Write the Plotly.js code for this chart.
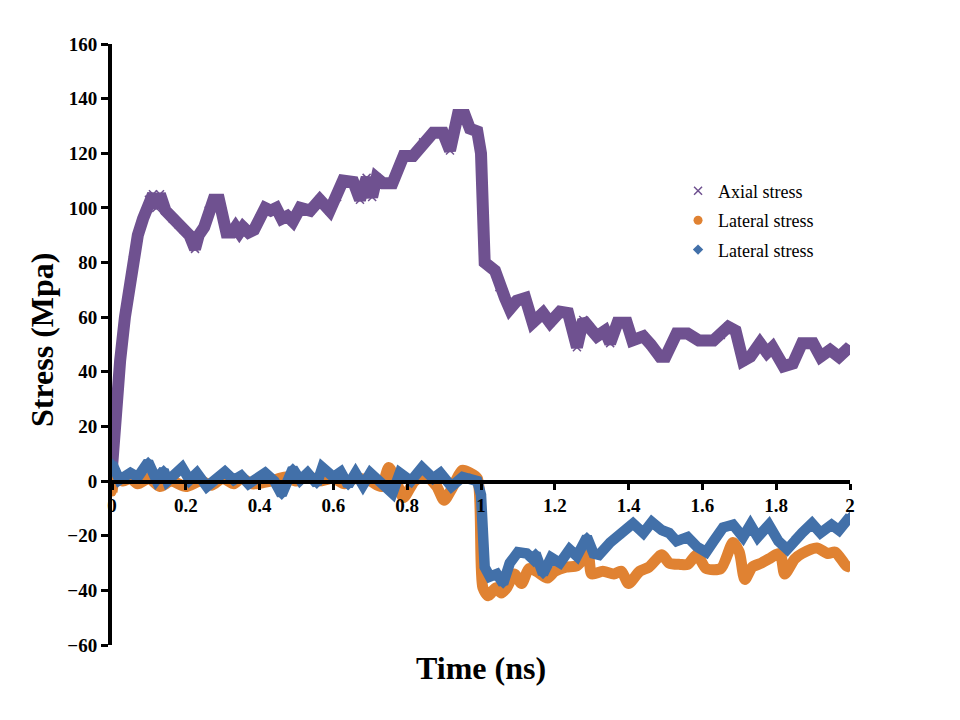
<!DOCTYPE html>
<html>
<head>
<meta charset="utf-8">
<script src="https://cdn.plot.ly/plotly-3.0.1.min.js"></script>
<style>html,body{margin:0;padding:0;background:#fff;}#chart{width:960px;height:720px;}</style>
</head>
<body>
<div id="chart"></div>
<script>
// ---- data ----
var seriesNames = ["Axial stress", "Lateral stress", "Lateral stress"];

var axialTime = [0, 0.01, 0.022, 0.035, 0.047, 0.057, 0.07, 0.084, 0.1, 0.111, 0.12, 0.13, 0.145, 0.165, 0.18, 0.195, 0.21, 0.225, 0.235, 0.25, 0.262, 0.275, 0.29, 0.3, 0.31, 0.325, 0.335, 0.345, 0.355, 0.37, 0.385, 0.4, 0.415, 0.43, 0.445, 0.46, 0.475, 0.49, 0.51, 0.537, 0.563, 0.59, 0.61, 0.626, 0.654, 0.672, 0.69, 0.705, 0.717, 0.735, 0.76, 0.79, 0.816, 0.843, 0.87, 0.897, 0.916, 0.937, 0.956, 0.97, 0.99, 1.0, 1.005, 1.01, 1.038, 1.05, 1.065, 1.078, 1.097, 1.12, 1.14, 1.168, 1.187, 1.214, 1.236, 1.26, 1.277, 1.295, 1.314, 1.336, 1.35, 1.37, 1.395, 1.41, 1.44, 1.46, 1.485, 1.5, 1.53, 1.56, 1.59, 1.63, 1.65, 1.67, 1.69, 1.71, 1.73, 1.756, 1.775, 1.79, 1.82, 1.845, 1.87, 1.9, 1.92, 1.946, 1.97, 1.99, 2.0];
var axialStress = [5, 27, 44, 60, 72, 81, 90, 96, 103, 105, 100, 105, 99, 96, 94, 92, 90, 85, 90, 93, 99, 103, 103, 97, 91, 91, 93, 91, 93, 91, 92, 96, 100, 99, 100, 96, 97, 95, 100, 99, 103, 99, 104, 110, 109.5, 103, 111, 104, 111, 109, 109, 119, 119, 124, 127.5, 127.5, 121, 134, 134, 129, 128, 120, 100, 80, 77, 71, 67, 63, 66, 67, 58, 61.5, 58, 62, 61.5, 49, 59, 56, 53, 55, 50.5, 58, 58, 51.5, 53, 50, 45.5, 45.5, 54, 54, 51.5, 51.5, 53.5, 56.5, 55, 44, 45.5, 50.5, 47, 49, 42, 43, 50.5, 50.5, 45.5, 48, 45.5, 48, 47];

var orangeTime = [0, 0.01, 0.03, 0.05, 0.07, 0.1, 0.13, 0.16, 0.2, 0.24, 0.27, 0.3, 0.33, 0.35, 0.38, 0.43, 0.47, 0.5, 0.53, 0.56, 0.6, 0.63, 0.66, 0.7, 0.73, 0.75, 0.77, 0.79, 0.82, 0.85, 0.88, 0.9, 0.92, 0.95, 0.97, 0.99, 1.005, 1.02, 1.04, 1.055, 1.07, 1.09, 1.11, 1.13, 1.15, 1.18, 1.2, 1.23, 1.26, 1.29, 1.3, 1.33, 1.36, 1.38, 1.4, 1.43, 1.455, 1.49, 1.51, 1.54, 1.56, 1.585, 1.61, 1.65, 1.683, 1.7, 1.715, 1.735, 1.76, 1.78, 1.81, 1.823, 1.85, 1.87, 1.91, 1.94, 1.96, 1.99, 2.0];
var orangeStress = [-4, 2, 0, 1, -1, 1, -2, 0, -2, 0, -1.5, 1, -1, 1, -1, 0, 1.5, 0, 2, 0, 1, -1, 1, 0, -2, 5, 0, -6, 0, 2, -2, -7, -3, 4, 3, 1, -39, -42, -39, -41, -39, -34, -37.5, -32, -33, -35.5, -33, -31.5, -31, -27, -34, -33, -34, -33, -37.5, -33, -31.5, -27, -30, -30.5, -30.5, -27, -32, -32, -22.5, -26, -36, -31.5, -30, -28.5, -26.5, -34, -28.5, -26.5, -24.5, -26.5, -26, -31, -31.5];

var blueTime = [0, 0.02, 0.05, 0.07, 0.098, 0.12, 0.14, 0.15, 0.19, 0.21, 0.23, 0.257, 0.275, 0.306, 0.33, 0.35, 0.37, 0.415, 0.44, 0.46, 0.49, 0.51, 0.53, 0.555, 0.57, 0.6, 0.62, 0.64, 0.66, 0.68, 0.7, 0.73, 0.76, 0.78, 0.81, 0.84, 0.87, 0.89, 0.92, 0.95, 0.97, 0.99, 1.0, 1.01, 1.024, 1.043, 1.06, 1.078, 1.1, 1.124, 1.14, 1.148, 1.168, 1.19, 1.214, 1.24, 1.26, 1.287, 1.305, 1.32, 1.35, 1.385, 1.412, 1.44, 1.463, 1.49, 1.51, 1.53, 1.56, 1.585, 1.61, 1.63, 1.656, 1.683, 1.71, 1.73, 1.75, 1.78, 1.806, 1.83, 1.855, 1.87, 1.897, 1.92, 1.95, 1.97, 2.0];
var blueStress = [6.5, 0.4, 3, 1.5, 7, 0.4, 4, 0, 5, 0.4, 3, -2, 0, 3.4, 0.4, 2, -1, 3, 0, -5, 4.6, 0.4, 3, -1, 5, 1.5, 3.4, -1.5, 3, -1.5, 3, -1, -4.5, 3, 0, 5, 1, 3, -2, 1.5, 1, 0, -5, -31.5, -35, -34, -37.5, -30, -26, -26.5, -28.5, -26.5, -34, -28, -30, -25, -27.5, -20.5, -26.5, -27, -22.5, -19, -15.5, -19, -15, -18, -19, -22, -20.5, -24, -26, -22, -17, -16, -20.5, -16, -20.5, -16, -22, -25, -20.5, -19, -15.5, -19, -16, -18, -13];

var xTickVals = [0, 0.2, 0.4, 0.6, 0.8, 1, 1.2, 1.4, 1.6, 1.8, 2];
var xTickText = ["0", "0.2", "0.4", "0.6", "0.8", "1", "1.2", "1.4", "1.6", "1.8", "2"];
var yTickVals = [-60, -40, -20, 0, 20, 40, 60, 80, 100, 120, 140, 160];

var xTitle = "Time (ns)";
var yTitle = "Stress (Mpa)";

// ---- styles ----
var purple = "#6F5190", orange = "#E08232", blue = "#4270A9";
var serif = "Liberation Serif, Times New Roman, serif";

function markerTrace(x, y, name, color, symbol, size, group) {
  return {x: x, y: y, name: name, type: "scatter", mode: "markers", legendgroup: group,
    marker: {color: color, symbol: symbol, size: size, line: {color: color, width: symbol === "x-thin" ? 1.5 : 0}},
    hoverinfo: "skip"};
}
function lineTrace(x, y, color, width, shape) {
  return {x: x, y: y, type: "scatter", mode: "lines", showlegend: false,
    line: {color: color, width: width, shape: shape, smoothing: 0.7}, hoverinfo: "skip"};
}

var data = [
  markerTrace(axialTime, axialStress, seriesNames[0], purple, "x-thin", 8, "g1"),
  lineTrace(axialTime, axialStress, purple, 12, "linear"),
  markerTrace(orangeTime, orangeStress, seriesNames[1], orange, "circle", 9, "g2"),
  lineTrace(orangeTime, orangeStress, orange, 11, "spline"),
  markerTrace(blueTime, blueStress, seriesNames[2], blue, "diamond", 8, "g3"),
  lineTrace(blueTime, blueStress, blue, 10.5, "linear")
];

var axisFont = {family: serif, size: 19, color: "#000", weight: "bold"};

var layout = {
  width: 960, height: 720,
  paper_bgcolor: "#fff", plot_bgcolor: "rgba(0,0,0,0)",
  margin: {l: 112, r: 110, t: 44, b: 75},
  showlegend: true,
  legend: {x: 0.767, y: 0.786, xanchor: "left", yanchor: "top",
    font: {family: serif, size: 18, color: "#000"},
    bgcolor: "rgba(0,0,0,0)", traceorder: "grouped", tracegroupgap: 3},
  xaxis: {range: [0, 2], anchor: "free", position: 60 / 220,
    tickmode: "array", tickvals: xTickVals, ticktext: xTickText,
    showline: true, linecolor: "#000", linewidth: 3.5,
    ticks: "outside", ticklen: 6, tickwidth: 3, tickcolor: "#000",
    showgrid: false, zeroline: false, tickfont: axisFont},
  yaxis: {range: [-60, 160], tickmode: "array", tickvals: yTickVals,
    showline: true, linecolor: "#000", linewidth: 4,
    ticks: "outside", ticklen: 7, tickwidth: 3, tickcolor: "#000",
    showgrid: false, zeroline: false, tickfont: axisFont},
  annotations: [
    {text: xTitle, xref: "paper", yref: "paper", x: 0.5, y: -0.038, xanchor: "center", yanchor: "middle",
      showarrow: false, font: {family: serif, size: 32, color: "#000", weight: "bold"}},
    {text: yTitle, xref: "paper", yref: "paper", x: (42 - 112) / 738, y: 0.5075, xanchor: "center", yanchor: "middle",
      textangle: -90, showarrow: false, font: {family: serif, size: 32, color: "#000", weight: "bold"}}
  ]
};

Plotly.newPlot("chart", data, layout, {displayModeBar: false, staticPlot: true});
</script>
</body>
</html>
